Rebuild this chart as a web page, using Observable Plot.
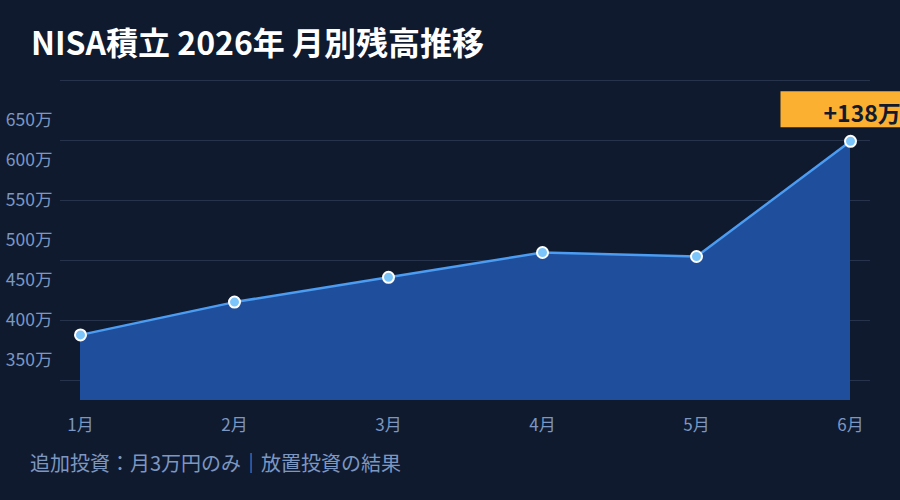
<!DOCTYPE html>
<html><head><meta charset="utf-8">
<script src="https://cdn.jsdelivr.net/npm/d3@7"></script>
<script src="https://cdn.jsdelivr.net/npm/@observablehq/plot@0.6"></script>
<style>
html,body{margin:0;padding:0;background:#101a2f;width:900px;height:500px;overflow:hidden;font-family:"Noto Sans CJK JP","Noto Sans",sans-serif;}
#title{height:70px;box-sizing:border-box;padding:20px 0 0 31px;color:#fff;font-weight:700;font-size:32px;line-height:42px;white-space:nowrap;}
#chart{height:380px;}
#caption{padding-left:30px;color:#7b97c2;font-size:20px;line-height:26px;white-space:nowrap;}
</style></head><body>
<div id="title">NISA積立 2026年 月別残高推移</div>
<div id="chart"></div>
<div id="caption">追加投資：月3万円のみ｜放置投資の結果</div>
<script>
const months = ["1月","2月","3月","4月","5月","6月"];
const balances = [382, 423, 454, 485, 480, 624];
const yTicks = [350, 400, 450, 500, 550, 600, 650];
const gridLines = [325, 400, 475, 550, 625, 700];
const yMin = 300, yMax = 700;
const badgeLabel = "+138万";

const data = months.map((m, i) => ({month: m, value: balances[i]}));
const last = [data[data.length - 1]];
const badgeSymbol = {draw(ctx) { ctx.rect(-70, -18, 140, 36); }};
const font = '"Noto Sans CJK JP","Noto Sans",sans-serif';

const chart = Plot.plot({
  width: 900, height: 380,
  marginTop: 10, marginBottom: 50, marginLeft: 60, marginRight: 30,
  style: {background: "transparent", color: "#7b97c2", fontFamily: font, fontSize: "16px", overflow: "visible"},
  x: {type: "point", domain: months, padding: 0, inset: 20, label: null},
  y: {domain: [yMin, yMax], label: null},
  marks: [
    Plot.ruleY(gridLines, {stroke: "#26334b", strokeWidth: 1}),
    Plot.areaY(data, {x: "month", y1: () => yMin, y2: "value", fill: "#1f4f9c", curve: "linear"}),
    Plot.lineY(data, {x: "month", y: "value", stroke: "#4b9cf2", strokeWidth: 2.5}),
    Plot.dot(data, {x: "month", y: "value", r: 5.5, fill: "#7cc5fb", stroke: "#ffffff", strokeWidth: 2}),
    Plot.axisY(yTicks, {tickSize: 0, tickPadding: 8, tickFormat: d => d + "万", fontSize: 17.5, fill: "#7b97c2", label: null}),
    Plot.axisX({tickSize: 0, tickPadding: 18, fontSize: 17, fill: "#7b97c2", label: null}),
    Plot.dot(last, {x: "month", y: "value", symbol: badgeSymbol, fill: "#fbb031", stroke: null, dy: -32}),
    Plot.text(last, {x: "month", y: "value", text: () => badgeLabel, dx: -27, dy: -27, textAnchor: "start", fontSize: 23, fontWeight: 700, fill: "#111a2e"})
  ]
});
document.getElementById("chart").appendChild(chart);
</script>
</body></html>
